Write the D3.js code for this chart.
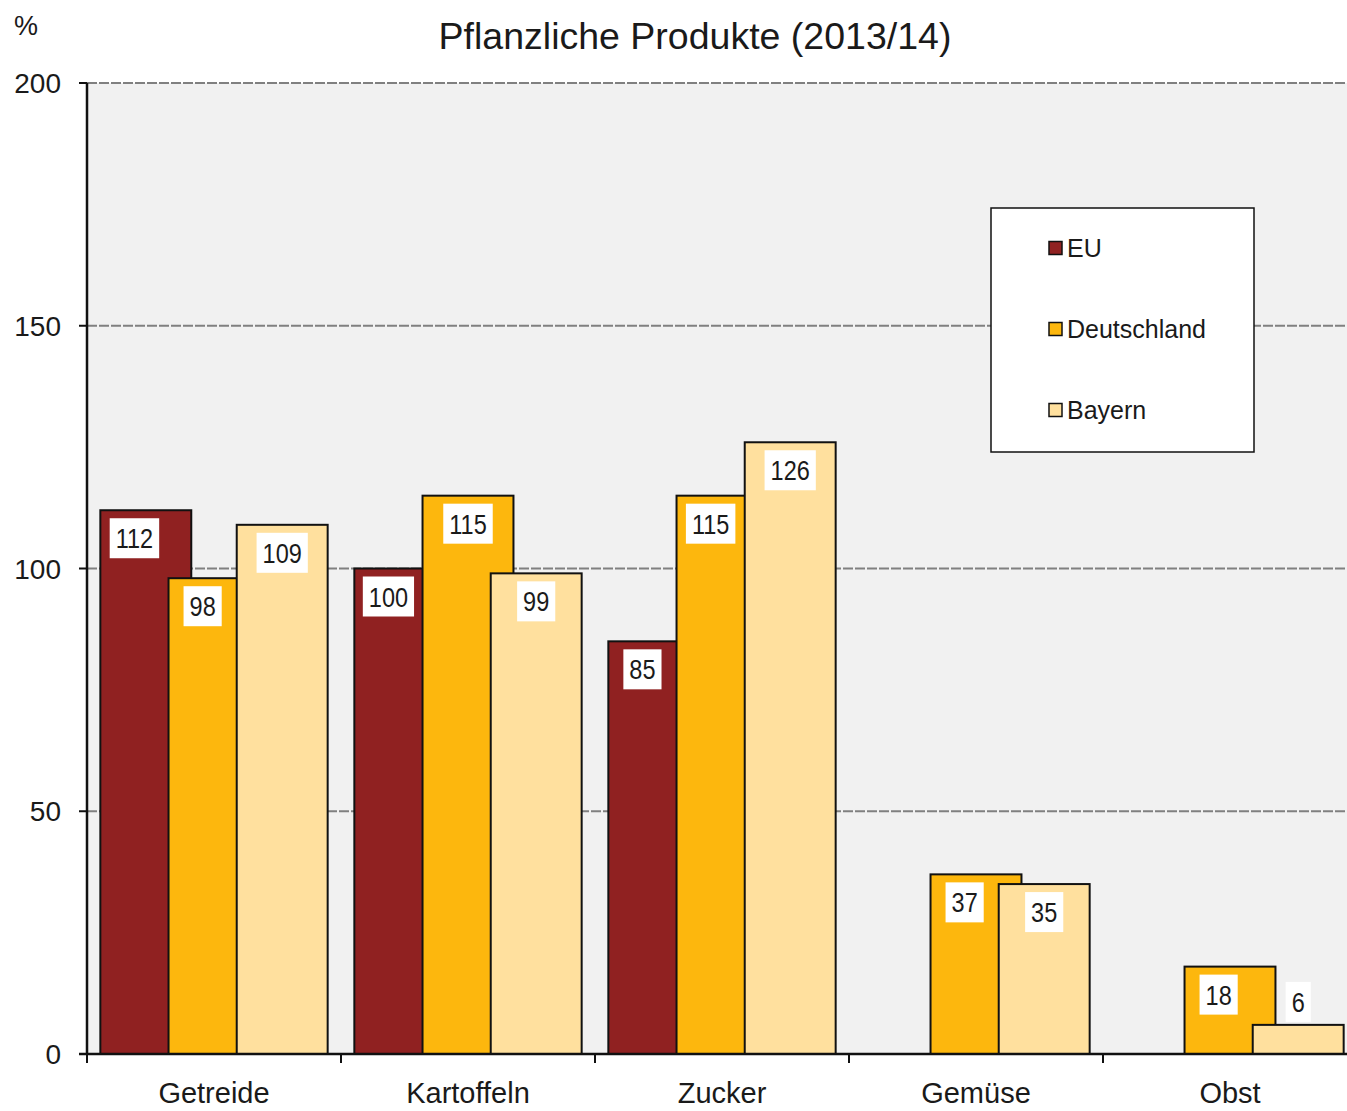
<!DOCTYPE html>
<html lang="de">
<head>
<meta charset="UTF-8">
<title>Pflanzliche Produkte (2013/14)</title>
<script src="https://cdnjs.cloudflare.com/ajax/libs/d3/7.8.5/d3.min.js"></script>
<style>
body{ margin:0; background:#fff; }
svg{ display:block; font-family:"Liberation Sans", Arial, sans-serif; }
</style>
</head>
<body>
<div id="chart"></div>
<script>
// data
var categories = ["Getreide", "Kartoffeln", "Zucker", "Gemüse", "Obst"];
var seriesNames = ["EU", "Deutschland", "Bayern"];
var euValues = [112, 100, 85, null, null];
var deValues = [98, 115, 115, 37, 18];
var byValues = [109, 99, 126, 35, 6];
var yTicks = [0, 50, 100, 150, 200];
var colors = ["#902121", "#fdb70d", "#ffe09e"];

var W = 1347, H = 1111;
var plotL = 87, plotR = 1357, plotT = 83, plotB = 1054;

var svg = d3.select('#chart').append('svg')
  .attr('width', W).attr('height', H);

var x0 = d3.scaleBand().domain(categories).range([plotL, plotR]).padding(0);
var y = d3.scaleLinear().domain([0, 200]).range([plotB, plotT]);

var bw = x0.bandwidth();
var barW = bw * 0.358;
var step = barW * 0.75;   // bars overlap
var offset = (bw - (2 * step + barW)) / 2;

// plot area
svg.append('rect')
  .attr('x', plotL).attr('y', plotT)
  .attr('width', plotR - plotL).attr('height', plotB - plotT)
  .attr('fill', '#f1f1f1');

// grid
svg.append('g').selectAll('line')
  .data(yTicks.filter(function(d){ return d > 0; }))
  .enter().append('line')
  .attr('x1', plotL).attr('x2', plotR)
  .attr('y1', function(d){ return y(d); })
  .attr('y2', function(d){ return y(d); })
  .attr('stroke', '#808080')
  .attr('stroke-width', 1.8)
  .attr('stroke-dasharray', '10,2');

var all = [euValues, deValues, byValues];

var groups = svg.append('g').selectAll('g')
  .data(categories)
  .enter().append('g');

groups.each(function(cat, ci){
  var g = d3.select(this);
  var gx = x0(cat) + offset;
  all.forEach(function(vals, si){
    var v = vals[ci];
    if (v == null) return;
    g.append('rect')
      .attr('x', gx + si * step)
      .attr('y', y(v))
      .attr('width', barW)
      .attr('height', y(0) - y(v))
      .attr('fill', colors[si])
      .attr('stroke', '#111')
      .attr('stroke-width', 2);
  });
});

// data labels (white boxes, inside end of the bar)
var labels = [];
categories.forEach(function(cat, ci){
  var gx = x0(cat) + offset;
  all.forEach(function(vals, si){
    var v = vals[ci];
    if (v == null) return;
    var bx = gx + si * step;
    var cy = y(v) + 28;
    if (cy + 20 > y(0)) cy = y(v) - 23;
    var r = bx + barW;
    var next = all[si + 1] ? all[si + 1][ci] : null;
    if (next != null && y(next) < cy + 45) r = bx + step;
    labels.push({ v: v, cx: (bx + r) / 2, cy: cy });
  });
});

var sx = 0.84;
var lg = svg.append('g').selectAll('g')
  .data(labels)
  .enter().append('g')
  .attr('transform', function(d){ return 'translate(' + d.cx + ',' + d.cy + ')'; });

lg.append('text')
  .attr('transform', 'scale(' + sx + ',1)')
  .attr('dy', '0.36em')
  .attr('text-anchor', 'middle')
  .attr('font-size', 28)
  .attr('fill', '#1a1a1a')
  .text(function(d){ return d.v; })
  .each(function(d){
    var w = this.getBBox().width * sx;
    d3.select(this.parentNode).insert('rect', 'text')
      .attr('x', -w / 2 - 6).attr('y', -20)
      .attr('width', w + 12).attr('height', 40)
      .attr('fill', '#fff');
  });

// axes
svg.append('line')
  .attr('x1', plotL).attr('x2', plotL)
  .attr('y1', plotT).attr('y2', plotB)
  .attr('stroke', '#111').attr('stroke-width', 2.5);

svg.append('line')
  .attr('x1', plotL - 8).attr('x2', plotR)
  .attr('y1', plotB).attr('y2', plotB)
  .attr('stroke', '#111').attr('stroke-width', 2.5);

var yAx = svg.append('g');
yAx.selectAll('line')
  .data(yTicks).enter().append('line')
  .attr('x1', plotL - 8).attr('x2', plotL)
  .attr('y1', function(d){ return y(d); })
  .attr('y2', function(d){ return y(d); })
  .attr('stroke', '#111').attr('stroke-width', 2);
yAx.selectAll('text')
  .data(yTicks).enter().append('text')
  .attr('x', 61)
  .attr('y', function(d){ return y(d); })
  .attr('dy', '0.36em')
  .attr('text-anchor', 'end')
  .attr('font-size', 28)
  .attr('fill', '#1a1a1a')
  .text(function(d){ return d; });

var xAx = svg.append('g');
xAx.selectAll('line')
  .data(categories.concat(['_end'])).enter().append('line')
  .attr('x1', function(d, i){ return plotL + i * bw; })
  .attr('x2', function(d, i){ return plotL + i * bw; })
  .attr('y1', plotB).attr('y2', plotB + 9)
  .attr('stroke', '#111').attr('stroke-width', 2);
xAx.selectAll('text')
  .data(categories).enter().append('text')
  .attr('x', function(d){ return x0(d) + bw / 2; })
  .attr('y', 1103)
  .attr('text-anchor', 'middle')
  .attr('font-size', 29)
  .attr('fill', '#1a1a1a')
  .text(function(d){ return d; });

// title and unit
svg.append('text')
  .attr('x', 695).attr('y', 49)
  .attr('text-anchor', 'middle')
  .attr('font-size', 37.5)
  .attr('fill', '#1a1a1a')
  .text('Pflanzliche Produkte (2013/14)');

svg.append('text')
  .attr('x', 14).attr('y', 35)
  .attr('font-size', 27)
  .attr('fill', '#1a1a1a')
  .text('%');

// legend
var leg = svg.append('g').attr('transform', 'translate(991,208)');
leg.append('rect')
  .attr('width', 263).attr('height', 244)
  .attr('fill', '#fff')
  .attr('stroke', '#111').attr('stroke-width', 1.5);

var li = leg.selectAll('g.item')
  .data(seriesNames).enter().append('g')
  .attr('class', 'item')
  .attr('transform', function(d, i){ return 'translate(58,' + (40 + i * 81) + ')'; });
li.append('rect')
  .attr('x', 0).attr('y', -6.5)
  .attr('width', 13).attr('height', 13)
  .attr('fill', function(d, i){ return colors[i]; })
  .attr('stroke', '#111').attr('stroke-width', 1.5);
li.append('text')
  .attr('x', 18).attr('y', 0)
  .attr('dy', '0.36em')
  .attr('font-size', 25)
  .attr('fill', '#1a1a1a')
  .text(function(d){ return d; });
</script>
</body>
</html>
